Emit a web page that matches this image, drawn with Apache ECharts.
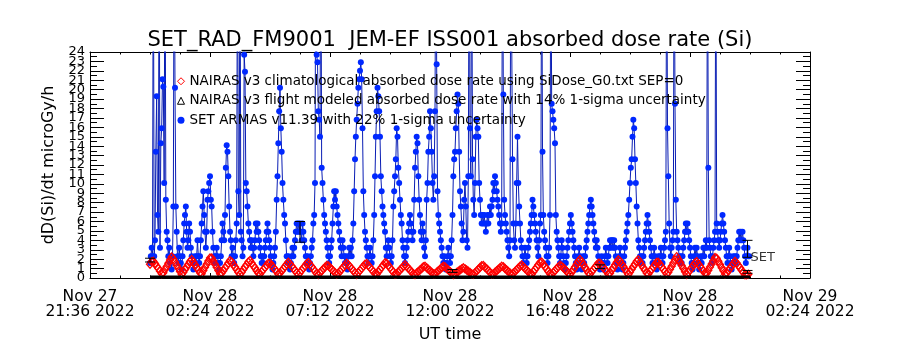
<!DOCTYPE html>
<html><head><meta charset="utf-8">
<script src="https://cdn.jsdelivr.net/npm/echarts@6/dist/echarts.min.js"></script>
<style>html,body{margin:0;padding:0;background:#fff}#c{width:900px;height:350px}</style>
</head><body><div id="c"></div>
<script>
// x axis: hours after Nov 27 2022 21:36 UT
const xTickLabels = ['Nov 27\n21:36 2022','Nov 28\n02:24 2022','Nov 28\n07:12 2022','Nov 28\n12:00 2022','Nov 28\n16:48 2022','Nov 28\n21:36 2022','Nov 29\n02:24 2022'];
const yTickLabels = ['0','1','2','3','4','5','6','7','8','9','10','11','12','13','14','15','16','17','18','19','20','21','22','23','24'];
const seriesNames = [
  'NAIRAS v3 climatological absorbed dose rate using SiDose_G0.txt SEP=0',
  'NAIRAS v3 flight modeled absorbed dose rate with 14% 1-sigma uncertainty',
  'SET ARMAS v11.39 with 22% 1-sigma uncertainty'
];
const dataStartHour = 2.4;   // Nov 28 00:00 UT
const setStepMin = 2;
const climStepMin = 4;
const flightStepMin = 60;

// SET ARMAS dose rate, 2-minute samples from Nov 28 00:00 UT (values > 24 are off scale)
const setRate = [
1.6,2.3,3.2,2.3,40,2.3,4.0,13.4,19.3,6.7,4.9,40,3.2,14.3,15.9,21.1,20.3,10.1,40,8.3,4.9,4.0,2.3,3.2,1.6,2.3,0.9,2.3,7.6,40,
20.2,7.6,4.9,2.3,1.6,3.2,2.3,1.6,0.9,2.3,4.0,5.8,6.7,7.6,4.9,3.2,4.0,5.8,4.9,3.2,2.3,1.6,0.9,1.6,2.3,1.6,2.3,4.0,2.3,1.6,
2.3,4.0,5.8,7.6,9.2,6.7,4.9,3.2,4.9,8.3,9.2,10.1,10.8,8.3,7.6,4.9,3.2,2.3,1.6,2.3,3.2,2.3,1.6,0.9,1.6,2.3,4.0,5.8,4.9,4.0,
6.7,11.7,14.1,13.4,10.8,7.6,4.9,4.0,2.3,3.2,2.3,1.6,2.3,4.0,5.8,40,9.2,6.7,40,4.9,4.0,2.3,3.2,23.7,21.9,10.1,9.2,7.6,5.8,4.9,
4.0,3.2,4.0,3.2,2.3,3.2,4.0,5.8,4.9,5.8,4.9,4.0,3.2,2.3,1.6,2.3,1.6,2.3,3.2,4.0,4.9,5.8,4.9,4.0,3.2,2.3,1.6,0.9,1.6,2.3,
3.2,4.9,8.3,10.8,14.3,17.7,20.2,15.9,13.4,10.1,8.3,6.7,5.8,4.0,2.3,1.6,2.3,1.6,0.9,1.6,2.3,3.2,2.3,3.2,4.0,4.9,5.8,4.9,5.8,4.9,
5.8,4.9,4.0,5.8,4.9,4.0,3.2,2.3,1.6,2.3,1.6,0.9,1.6,2.3,3.2,4.0,5.8,6.7,10.1,40,23.7,22.9,17.7,16.8,15.0,40,11.7,10.1,8.3,6.7,
5.8,4.9,4.0,3.2,2.3,1.6,2.3,3.2,4.0,5.8,7.6,9.2,8.3,9.2,7.6,6.7,5.8,4.9,4.0,3.2,2.3,4.0,3.2,2.3,1.6,2.3,1.6,0.9,2.3,3.2,
2.3,3.2,2.3,4.0,5.8,9.2,12.6,15.0,16.8,18.5,20.2,21.1,22.0,22.9,21.1,15.9,9.2,6.7,4.9,4.0,3.2,2.3,1.6,2.3,3.2,2.3,1.6,2.3,4.0,6.7,
10.8,15.0,17.7,20.2,19.3,17.7,15.0,10.8,9.2,7.6,6.7,5.8,4.9,3.2,2.3,3.2,4.0,3.2,2.3,1.6,2.3,4.0,7.6,9.2,10.8,12.6,15.9,15.0,11.7,10.1,
8.3,6.7,5.8,4.0,3.2,2.3,1.6,2.3,3.2,4.0,4.9,5.8,6.7,5.8,4.9,4.0,4.9,8.3,11.7,13.4,15.0,14.3,10.8,8.3,6.7,4.9,4.0,5.8,4.9,3.2,
2.3,4.0,8.3,10.1,13.4,15.0,17.7,15.9,13.4,10.1,8.3,10.8,17.7,40,22.7,9.2,6.7,5.8,4.9,4.0,3.2,2.3,1.6,2.3,1.6,0.9,1.6,2.3,3.2,2.3,
1.6,2.3,4.0,6.7,10.8,12.6,13.4,15.9,17.7,19.5,18.5,13.4,9.2,7.6,5.8,4.0,4.9,8.3,10.1,7.6,4.0,3.2,10.8,40,15.9,10.8,40,12.6,8.3,6.7,
10.1,15.0,16.8,15.9,15.0,10.1,8.3,6.7,5.8,6.7,5.8,6.7,5.8,4.9,5.8,6.7,5.8,6.7,7.6,6.7,7.6,8.3,10.1,9.2,10.8,10.1,9.2,8.3,7.6,6.7,
5.8,4.9,5.8,40,19.5,8.3,6.7,5.8,4.9,4.0,3.2,2.3,4.0,40,40,12.6,5.8,4.0,3.2,5.8,10.1,15.0,10.1,7.6,5.8,4.0,3.2,2.3,1.6,2.3,
3.2,2.3,1.6,2.3,3.2,4.0,4.9,5.8,6.7,8.3,7.6,6.7,5.8,4.9,4.0,3.2,2.3,4.0,5.8,6.7,40,13.4,6.7,4.9,4.0,3.2,2.3,1.6,2.3,3.2,
6.7,40,18.5,17.7,16.8,15.9,14.3,6.7,4.9,4.0,3.2,2.3,1.6,2.3,4.0,3.2,2.3,1.6,0.9,1.6,2.3,3.2,4.0,4.9,5.8,6.7,5.8,4.9,4.0,3.2,
2.3,1.6,0.9,1.6,2.3,3.2,2.3,1.6,0.9,1.6,2.3,1.6,2.3,3.2,4.0,4.9,5.8,6.7,7.6,8.3,7.6,6.7,5.8,4.9,4.0,3.2,4.0,3.2,2.3,1.6,
0.9,1.6,2.3,1.6,0.9,1.6,2.3,3.2,2.3,1.6,2.3,3.2,4.0,3.2,4.0,4.0,3.2,4.0,3.2,2.3,1.6,0.9,1.6,2.3,3.2,2.3,1.6,0.9,1.6,2.3,
3.2,4.0,4.9,5.8,6.7,8.3,10.1,11.7,12.6,15.0,16.8,15.9,12.6,10.1,7.6,5.8,4.0,3.2,2.3,1.6,2.3,1.6,2.3,3.2,4.0,4.9,5.8,6.7,5.8,4.9,
4.0,3.2,2.3,1.6,2.3,3.2,2.3,1.6,0.9,1.6,2.3,1.6,2.3,3.2,2.3,1.6,2.3,3.2,4.0,4.9,40,15.9,10.8,5.8,3.2,2.3,3.2,4.0,4.9,40,
18.5,8.3,4.9,4.0,3.2,2.3,1.6,2.3,1.6,2.3,3.2,4.0,4.9,5.8,4.9,5.8,4.9,4.0,3.2,2.3,1.6,0.9,1.6,2.3,3.2,2.3,3.2,2.3,1.6,0.9,
1.6,2.3,1.6,2.3,3.2,2.3,3.2,4.0,3.2,40,11.7,4.0,3.2,2.3,1.6,2.3,3.2,4.0,4.9,40,5.8,4.9,4.0,3.2,4.0,4.9,5.8,6.7,5.8,4.9,
4.0,3.2,2.3,1.6,2.3,3.2,2.3,1.6,0.9,1.6,2.3,1.6,2.3,1.6,2.3,3.2,4.0,4.9,4.0,4.9,4.0,4.9,4.0,3.2,2.3,1.6,2.3,3.2,2.3,2.3
];

// NAIRAS v3 climatological dose rate, 4-minute samples from Nov 28 00:00 UT
const climRate = [
1.47,1.74,1.79,1.53,1.26,1.00,0.73,0.46,0.56,0.90,1.23,1.57,1.90,2.23,2.03,
1.70,1.36,1.03,0.70,0.36,0.61,0.90,1.18,1.46,1.75,1.97,1.69,1.41,1.12,0.84,
0.56,0.46,0.80,1.13,1.47,1.80,2.13,2.13,1.80,1.47,1.13,0.80,0.46,0.52,0.78,
1.05,1.31,1.58,1.85,1.69,1.42,1.16,0.89,0.62,0.36,0.62,0.89,1.16,1.42,1.69,
1.85,1.58,1.31,1.05,0.78,0.52,0.42,0.66,0.89,1.12,1.35,1.58,1.58,1.35,1.12,
0.89,0.66,0.42,0.52,0.75,0.98,1.21,1.45,1.68,1.49,1.26,1.03,0.80,0.56,0.36,
0.59,0.82,1.05,1.28,1.51,1.65,1.42,1.19,0.96,0.73,0.49,0.38,0.56,0.74,0.97,
1.15,1.33,1.29,1.11,0.93,0.75,0.57,0.39,0.51,0.72,0.94,1.15,1.36,1.58,1.41,
1.19,0.98,0.77,0.55,0.38,0.59,0.81,1.02,1.24,1.45,1.54,1.32,1.11,0.89,0.68,
0.47,0.42,0.63,0.91,1.14,1.38,1.61,1.56,1.33,1.10,0.86,0.63,0.40,0.45,0.63,
0.86,1.04,1.22,1.40,1.22,1.04,0.86,0.63,0.45,0.37,0.53,0.70,0.86,1.02,1.19,
1.25,1.09,0.93,0.76,0.60,0.44,0.44,0.60,0.76,0.93,1.09,1.25,1.19,1.02,0.86,
0.70,0.53,0.37,0.46,0.59,0.72,0.84,0.97,1.10,0.97,0.84,0.72,0.59,0.46,0.39,
0.57,0.75,0.93,1.11,1.29,1.33,1.15,0.97,0.79,0.61,0.43,0.44,0.60,0.76,0.93,
1.09,1.25,1.19,1.02,0.86,0.70,0.53,0.37,0.52,0.70,0.88,1.06,1.24,1.38,1.20,
1.02,0.84,0.66,0.48,0.40,0.65,0.90,1.15,1.40,1.65,1.70,1.45,1.20,0.95,0.70,
0.46,0.41,0.59,0.77,1.00,1.18,1.36,1.26,1.08,0.90,0.72,0.54,0.36,0.61,0.90,
1.18,1.46,1.75,1.97,1.69,1.41,1.12,0.84,0.56,0.42,0.66,0.89,1.12,1.35,1.58,
1.58,1.35,1.12,0.89,0.66,0.42,0.51,0.81,1.09,1.38,1.66,1.94,1.77,1.49,1.21,
0.92,0.64,0.36,0.64,0.92,1.21,1.49,1.77,1.94,1.66,1.38,1.09,0.81,0.53,0.42,
0.68,0.93,1.18,1.43,1.68,1.68,1.43,1.18,0.93,0.68,0.43,0.60,0.93,1.26,1.60,
1.93,2.27,2.00,1.67,1.33,1.00,0.67,0.36,0.60,0.85,1.10,1.35,1.60,1.75,1.50,
1.25,1.00,0.75,0.50,0.50,0.83,1.16,1.50,1.83,2.17,2.10,1.77,1.43,1.10,0.76,
0.43,0.53,0.78,1.03,1.28,1.53,1.78,1.58,1.33,1.08,0.83,0.58,0.35,0.35,0.40
];

// NAIRAS v3 flight modeled dose rate, hourly from Nov 28 00:00 UT
const flightRate = [0.1,0.1,0.1,0.1,0.1,0.1,0.1,0.1,0.1,0.1,0.1,0.1,0.1,0.1,0.1,0.1,0.1,0.1,0.1,0.1,0.1,0.1,0.1,0.1,0.1];

// representative error bars (hours on the x axis)
const setErrHour = [2.4, 8.4, 26.3];
const setErrLow  = [1.7, 3.8, 2.2];
const setErrHigh = [2.1, 6.0, 4.0];
const flightErrHour = [14.5, 20.4, 26.3];
const flightErrLow  = [0.6, 1.0, 0.5];
const flightErrHigh = [0.9, 1.4, 0.8];

const FONT = 'DejaVu Sans';
const toXY = (arr, stepMin) => arr.map((v, i) => [dataStartHour + i * stepMin / 60, v]);

function errBar(params, api) {
  const lo = api.coord([api.value(0), api.value(1)]);
  const hi = api.coord([api.value(0), api.value(2)]);
  const w = 5;
  const st = {stroke: '#000', lineWidth: 1};
  return {type: 'group', children: [
    {type: 'line', shape: {x1: lo[0], y1: lo[1], x2: hi[0], y2: hi[1]}, style: st},
    {type: 'line', shape: {x1: lo[0] - w, y1: lo[1], x2: lo[0] + w, y2: lo[1]}, style: st},
    {type: 'line', shape: {x1: hi[0] - w, y1: hi[1], x2: hi[0] + w, y2: hi[1]}, style: st}
  ]};
}

const xAxisCommon = {
  type: 'value', min: 0, max: 28.8, interval: 4.8,
  axisLine: {onZero: false, lineStyle: {color: '#000', width: 1}},
  axisTick: {inside: true, length: 5, lineStyle: {color: '#000'}},
  minorTick: {show: true, splitNumber: 4, length: 2.5, lineStyle: {color: '#000'}},
  splitLine: {show: false}, minorSplitLine: {show: false}
};
const yAxisCommon = {
  type: 'value', min: 0, max: 24, interval: 1,
  axisLine: {onZero: false, lineStyle: {color: '#000', width: 1}},
  axisTick: {inside: true, length: 14, lineStyle: {color: '#000'}},
  minorTick: {show: true, splitNumber: 2, length: 7, lineStyle: {color: '#000'}},
  splitLine: {show: false}, minorSplitLine: {show: false}
};
const yLabelStyle = {fontFamily: FONT, fontSize: 13, margin: 5, color: '#000', showMinLabel: true, showMaxLabel: true};

const chart = echarts.init(document.getElementById('c'), null, {renderer: 'canvas'});
chart.setOption({
  animation: false,
  backgroundColor: '#fff',
  title: {
    text: 'SET_RAD_FM9001  JEM-EF ISS001 absorbed dose rate (Si)',
    left: 'center', top: 25,
    textStyle: {fontFamily: FONT, fontSize: 21, fontWeight: 'normal', color: '#000'}
  },
  grid: {left: 90, right: 90, top: 52, bottom: 72},
  legend: {
    orient: 'vertical', left: 172, top: 69, itemWidth: 7, itemHeight: 7, itemGap: 5,
    selectedMode: false,
    textStyle: {fontFamily: FONT, fontSize: 13.5, color: '#000', lineHeight: 14.5},
    data: [
      {name: seriesNames[0], icon: 'diamond', itemStyle: {color: 'rgba(0,0,0,0)', borderColor: '#ff0000', borderWidth: 1}},
      {name: seriesNames[1], icon: 'triangle', itemStyle: {color: 'rgba(0,0,0,0)', borderColor: '#000', borderWidth: 1}},
      {name: seriesNames[2], icon: 'circle', itemStyle: {color: '#0028ff'}}
    ]
  },
  xAxis: [
    Object.assign({}, xAxisCommon, {
      position: 'bottom',
      axisLabel: {formatter: v => xTickLabels[Math.round(v / 4.8)], fontFamily: FONT, fontSize: 15.5, lineHeight: 15, margin: 11, color: '#000',
                  showMinLabel: true, showMaxLabel: true},
      name: 'UT time', nameLocation: 'middle', nameGap: 49,
      nameTextStyle: {fontFamily: FONT, fontSize: 16, color: '#000'}
    }),
    Object.assign({}, xAxisCommon, {position: 'top', axisLabel: {show: false}})
  ],
  yAxis: [
    Object.assign({}, yAxisCommon, {
      position: 'left',
      axisLabel: Object.assign({}, yLabelStyle, {formatter: v => (Math.round(v) % 2 === 0 ? yTickLabels[Math.round(v)] : '')}),
      name: 'dD(Si)/dt microGy/h', nameLocation: 'middle', nameGap: 33, nameRotate: 90,
      nameTextStyle: {fontFamily: FONT, fontSize: 16, color: '#000'}
    }),
    Object.assign({}, yAxisCommon, {position: 'right', axisLabel: {show: false}}),
    Object.assign({}, yAxisCommon, {
      position: 'left', offset: 0,
      axisLine: {show: false}, axisTick: {show: false}, minorTick: {show: false},
      axisLabel: Object.assign({}, yLabelStyle, {formatter: v => (Math.round(v) % 2 === 1 ? yTickLabels[Math.round(v)] : '')})
    })
  ],
  series: [
    {
      type: 'line', data: toXY(setRate, setStepMin), symbol: 'none',
      lineStyle: {color: '#0a1eb4', width: 1}, z: 2, silent: true
    },
    {
      name: seriesNames[2], type: 'scatter', data: toXY(setRate, setStepMin),
      symbol: 'circle', symbolSize: 6, itemStyle: {color: '#0028ff', opacity: 1}, z: 3, silent: true
    },
    {
      name: seriesNames[0], type: 'scatter', data: toXY(climRate, climStepMin),
      symbol: 'diamond', symbolSize: [7, 8],
      itemStyle: {color: 'rgba(0,0,0,0)', borderColor: '#ff0000', borderWidth: 1.3, opacity: 1}, z: 4, silent: true
    },
    {
      name: seriesNames[1], type: 'line', data: toXY(flightRate, flightStepMin),
      symbol: 'none', lineStyle: {color: '#000', width: 3}, z: 5, silent: true
    },
    {
      type: 'custom', renderItem: errBar, z: 6, silent: true,
      data: setErrHour.map((t, i) => [t, setErrLow[i], setErrHigh[i]]), encode: {x: 0, y: [1, 2]}
    },
    {
      type: 'custom', renderItem: errBar, z: 6, silent: true,
      data: flightErrHour.map((t, i) => [t, flightErrLow[i], flightErrHigh[i]]), encode: {x: 0, y: [1, 2]}
    },
    {
      type: 'scatter', symbolSize: 0, z: 7, silent: true,
      data: [[setErrHour[2], setErrLow[2]]],
      label: {show: true, position: 'right', distance: 3, formatter: 'SET', fontFamily: FONT, fontSize: 13, color: '#000'}
    }
  ]
});
</script>
</body></html>
